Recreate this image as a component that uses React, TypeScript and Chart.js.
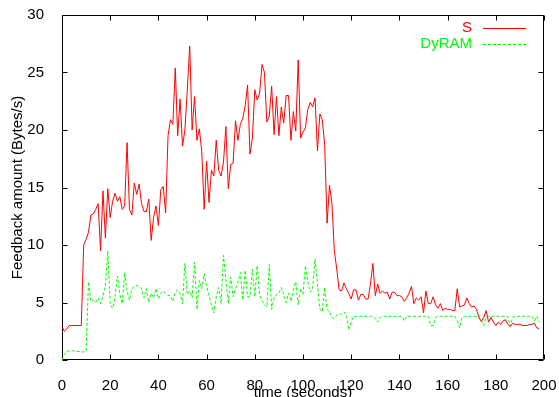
import React, { useEffect, useRef } from 'react';
import { Chart, registerables } from 'chart.js';

Chart.register(...registerables);

// Samples, one per second starting at t = 0
const S_VALUES = [
  2.9, 2.5, 2.7, 3.0, 3.0, 3.0, 3.0, 3.0, 3.0, 10.0,
  10.5, 11.1, 12.6, 12.7, 13.1, 13.6, 9.5, 14.7, 10.6, 14.9,
  12.4, 13.8, 14.5, 13.8, 14.2, 13.1, 13.4, 18.9, 13.1, 12.6,
  15.4, 14.4, 15.3, 13.6, 12.9, 12.9, 14.0, 10.4, 12.4, 13.4,
  11.7, 14.8, 15.1, 12.8, 19.5, 20.9, 20.5, 25.4, 19.5, 22.7,
  18.6, 20.0, 23.5, 27.3, 20.0, 22.9, 19.1, 20.1, 18.1, 13.1,
  17.3, 13.7, 16.5, 16.0, 19.1, 16.5, 16.0, 17.2, 20.3, 14.9,
  17.0, 17.1, 20.8, 19.1, 20.5, 21.0, 22.1, 23.9, 17.9, 19.3,
  23.5, 22.6, 23.2, 25.7, 25.0, 20.7, 21.2, 23.8, 19.6, 22.9,
  19.5, 22.0, 20.6, 23.0, 23.0, 19.1, 21.6, 19.9, 26.1, 19.3,
  19.8, 20.2, 21.8, 22.4, 22.0, 22.8, 18.2, 21.4, 20.9, 18.7,
  11.9, 15.2, 13.6, 9.5, 7.9, 6.1, 6.0, 6.7, 6.2, 5.8,
  5.3, 6.1, 6.1, 5.2, 5.7, 5.7, 5.3, 5.3, 6.6, 8.4,
  5.6, 6.6, 5.8, 6.0, 5.8, 5.9, 5.3, 5.9, 5.9, 5.6,
  5.6, 5.5, 5.1, 5.4, 5.8, 6.4, 4.9, 5.4, 5.2, 5.5,
  4.1, 6.0, 4.9, 4.9, 5.5, 4.8, 4.5, 4.9, 4.3, 4.5,
  4.4, 4.4, 4.3, 4.3, 6.2, 4.6, 4.7, 4.8, 5.4, 4.9,
  4.6, 4.7, 4.4, 3.7, 3.35, 3.7, 4.3, 3.3, 3.7, 3.3,
  3.0, 3.3, 3.1, 3.4, 3.5, 3.1, 2.9, 3.2, 3.1, 3.1,
  3.1, 3.0, 3.0, 3.0, 3.1, 3.1, 3.2, 2.8, 2.7,
];

const DYRAM_VALUES = [
  0.0, 0.5, 0.75, 0.8, 0.8, 0.8, 0.75, 0.75, 0.7, 0.7,
  0.75, 6.8, 5.1, 5.2, 5.0, 5.4, 4.9, 5.6, 6.4, 9.5,
  4.8, 4.5, 5.5, 7.3, 5.7, 4.9, 7.6, 6.0, 5.2, 6.2,
  6.4, 6.5, 6.4, 6.2, 5.4, 6.2, 5.0, 5.8, 5.4, 6.2,
  5.3, 5.8, 6.0, 5.8, 5.6, 5.6, 5.1, 5.9, 6.1, 5.8,
  4.9, 8.4, 5.7, 6.0, 5.4, 8.5, 4.4, 6.9, 6.2, 7.5,
  6.4, 5.6, 4.8, 4.1, 5.5, 6.3, 4.9, 9.1, 7.0, 4.9,
  7.2, 5.5, 6.2, 6.8, 7.6, 5.2, 7.8, 5.5, 5.5, 7.9,
  5.5, 8.2, 5.6, 5.2, 4.8, 4.6, 8.3, 4.4, 5.4, 5.7,
  5.8, 6.3, 5.7, 5.0, 5.8, 5.1, 6.1, 6.8, 4.8, 6.2,
  5.7, 8.2, 6.8, 5.9, 6.2, 8.8, 6.6, 4.4, 4.2, 6.3,
  4.4, 4.2, 3.7, 3.6, 3.9, 4.0, 4.0, 4.2, 3.9, 2.6,
  3.3, 3.8, 3.8, 3.8, 3.8, 3.8, 3.8, 3.8, 3.8, 3.8,
  3.6, 3.3, 3.7, 3.8, 3.8, 3.8, 3.8, 3.8, 3.8, 3.8,
  3.8, 3.8, 3.4, 3.8, 3.8, 3.8, 3.8, 3.8, 3.8, 3.8,
  3.8, 3.8, 3.8, 3.0, 3.0, 3.7, 3.8, 3.8, 3.8, 3.8,
  3.8, 3.8, 3.8, 3.8, 3.4, 2.8, 3.7, 3.8, 3.8, 3.8,
  3.8, 3.8, 3.8, 3.8, 3.4, 3.0, 3.7, 3.8, 3.8, 3.8,
  3.8, 3.8, 3.8, 3.8, 3.8, 3.8, 2.95, 3.7, 3.8, 3.8,
  3.8, 3.8, 3.8, 3.8, 3.8, 3.8, 3.4, 3.8, 3.3,
];

const SERIES_NAMES = ['S', 'DyRAM'];
const SERIES_COLORS = ['#ff0000', '#00ff00'];
const X_TICKS = [0, 20, 40, 60, 80, 100, 120, 140, 160, 180, 200];
const Y_TICKS = [0, 5, 10, 15, 20, 25, 30];
const X_TITLE = 'time (seconds)';
const Y_TITLE = 'Feedback amount (Bytes/s)';

const FONT = '"Liberation Sans", Arial, Helvetica, sans-serif';

const framePlugin = {
  id: 'gnuFrame',
  beforeDatasetsDraw(chart: any) {
    const { ctx, chartArea: a, scales } = chart;
    ctx.save();
    ctx.strokeStyle = '#000';
    ctx.lineWidth = 1;
    const L = Math.round(a.left) + 0.5;
    const R = Math.round(a.right) - 0.5;
    const T = Math.round(a.top) + 0.5;
    const B = Math.round(a.bottom) - 0.5;
    ctx.beginPath();
    ctx.rect(L, T, R - L, B - T);
    const tl = 5;
    X_TICKS.forEach((v) => {
      const px = Math.round(scales.x.getPixelForValue(v)) + 0.5;
      ctx.moveTo(px, B);
      ctx.lineTo(px, B - tl);
      ctx.moveTo(px, T);
      ctx.lineTo(px, T + tl);
    });
    Y_TICKS.forEach((v) => {
      const py = Math.round(scales.y.getPixelForValue(v)) + 0.5;
      ctx.moveTo(L, py);
      ctx.lineTo(L + tl, py);
      ctx.moveTo(R, py);
      ctx.lineTo(R - tl, py);
    });
    ctx.stroke();
    ctx.restore();
  },
};

const legendPlugin = {
  id: 'gnuLegend',
  afterDatasetsDraw(chart: any) {
    const { ctx } = chart;
    ctx.save();
    ctx.font = `15px ${FONT}`;
    ctx.textAlign = 'right';
    ctx.textBaseline = 'middle';
    chart.data.datasets.forEach((ds: any, i: number) => {
      const y = 28 + i * 16;
      ctx.fillStyle = ds.borderColor;
      ctx.fillText(ds.label, 472, y);
      ctx.strokeStyle = ds.borderColor;
      ctx.lineWidth = ds.borderWidth;
      ctx.setLineDash(ds.borderDash || []);
      ctx.beginPath();
      ctx.moveTo(483, y + 0.5);
      ctx.lineTo(526, y + 0.5);
      ctx.stroke();
    });
    ctx.restore();
  },
};

export default function App() {
  const ref = useRef<HTMLCanvasElement | null>(null);

  useEffect(() => {
    document.body.style.margin = '0';
    const canvas = ref.current;
    if (!canvas) return;
    const chart = new Chart(canvas, {
      type: 'line',
      data: {
        datasets: [
          {
            label: SERIES_NAMES[0],
            data: S_VALUES.map((v, i) => ({ x: i, y: v })),
            borderColor: SERIES_COLORS[0],
            backgroundColor: SERIES_COLORS[0],
            borderWidth: 1,
            pointRadius: 0,
            tension: 0,
            fill: false,
          },
          {
            label: SERIES_NAMES[1],
            data: DYRAM_VALUES.map((v, i) => ({ x: i, y: v })),
            borderColor: SERIES_COLORS[1],
            backgroundColor: SERIES_COLORS[1],
            borderWidth: 1,
            borderDash: [3, 2],
            pointRadius: 0,
            tension: 0,
            fill: false,
          },
        ],
      },
      options: {
        responsive: false,
        animation: false,
        devicePixelRatio: 1,
        events: [],
        layout: { padding: { top: 15, right: 15, bottom: 0, left: 0 } },
        font: { family: FONT },
        plugins: {
          legend: { display: false },
          tooltip: { enabled: false },
        },
        scales: {
          x: {
            type: 'linear',
            min: 0,
            max: 200,
            grid: { display: false },
            border: { display: false },
            ticks: {
              stepSize: 20,
              padding: 9,
              color: '#000',
              maxRotation: 0,
              autoSkip: false,
              font: { family: FONT, size: 15 },
            },
            title: {
              display: true,
              text: X_TITLE,
              color: '#000',
              padding: 0,
              font: { family: FONT, size: 15, lineHeight: '8px' },
            },
            afterFit(s: any) {
              s.height = 37;
              s.paddingLeft = 0;
              s.paddingRight = 0;
            },
          },
          y: {
            type: 'linear',
            min: 0,
            max: 30,
            grid: { display: false },
            border: { display: false },
            ticks: {
              stepSize: 5,
              padding: 10,
              color: '#000',
              font: { family: FONT, size: 15 },
            },
            title: {
              display: true,
              text: Y_TITLE,
              color: '#000',
              padding: { top: 9, bottom: 0 },
              font: { family: FONT, size: 15 },
            },
            afterFit(s: any) {
              s.width = 62;
              s.paddingTop = 0;
              s.paddingBottom = 0;
            },
          },
        },
      } as any,
      plugins: [framePlugin, legendPlugin],
    });
    return () => chart.destroy();
  }, []);

  return (
    <div style={{ position: 'absolute', left: 0, top: 0, width: 559, height: 397 }}>
      <canvas ref={ref} width={559} height={397} style={{ display: 'block' }} />
    </div>
  );
}
